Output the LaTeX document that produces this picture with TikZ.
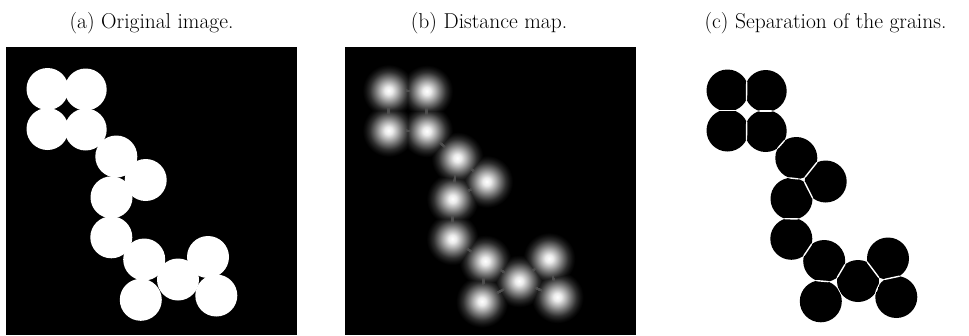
\documentclass[tikz,border=0pt]{standalone}
\usetikzlibrary{calc}

% radial profile of one grain in the distance map
\pgfdeclareradialshading{distglow}{\pgfpoint{0bp}{0bp}}{%
  color(0bp)=(white); color(3.7bp)=(white!92!black);
  color(8.3bp)=(white!68!black); color(13bp)=(white!42!black);
  color(17.6bp)=(white!18!black); color(21.3bp)=(white!6!black);
  color(24.1bp)=(black); color(50bp)=(black)}

% grain centres (panel a, in px) and touching pairs
\def\grains{1/47.5/89, 2/85.7/89.5, 3/47.5/129, 4/85.7/129.5,
  5/116.3/156.5, 6/145.7/180, 7/111.5/197.3, 8/111.3/237.3,
  9/144.2/259.5, 10/178/279.5, 11/208/257, 12/140.8/299.8,
  13/216.3/295.5}
\def\links{1/2, 1/3, 2/4, 3/4, 4/5, 5/6, 5/7, 6/7, 7/8, 8/9,
  9/10, 9/12, 10/12, 10/11, 10/13, 11/13}

\begin{document}
\begin{tikzpicture}[x=1pt, y=-1pt,
    caption/.style={font=\fontsize{21.5}{26}\selectfont, anchor=base,
                    inner sep=0pt},
    ridge/.style={line width=3pt, white!30!black, line cap=round},
    cut/.style={draw=white, line width=1.4pt}
  ]
    \useasboundingbox (0,0) rectangle (969,335);

    \foreach \n/\gx/\gy in \grains {
      \coordinate (a\n) at (\gx,\gy);
      \coordinate (b\n) at (\gx+341,\gy+1.5);
      \coordinate (c\n) at (\gx+680,\gy+1.5);
    }

    % === (a) Original image ===
    \node[caption] (capa) at (151.5,28.3) {(a) Original image.};
    \fill[black] (6,46.7) rectangle (297,335);
    \foreach \n in {1,...,13}
      \fill[white] (a\n) circle (21pt);

    % === (b) Distance map ===
    \node[caption] (capb) at (489,28.3) {(b) Distance map.};
    \fill[black] (345,46.7) rectangle (636,335);
    \begin{scope}[blend mode=lighten]
      \clip (345,46.7) rectangle (636,335);
      \foreach \p/\q in \links
        \draw[ridge] (b\p) -- (b\q);
      \foreach \n in {1,...,13}
        \shade[shading=distglow] (b\n) circle (27pt);
    \end{scope}

    % === (c) Separation of the grains ===
    \node[caption] (capc) at (825.5,28.3) {(c) Separation of the grains.};
    \foreach \n in {1,...,13}
      \fill[black] (c\n) circle (21pt);
    \foreach \p/\q in \links {
      \begin{scope}
        \clip (c\p) circle (21.6pt);
        \clip (c\q) circle (21.6pt);
        \draw[cut] ($($(c\p)!0.5!(c\q)$)!24pt!90:(c\q)$)
          -- ($($(c\p)!0.5!(c\q)$)!24pt!-90:(c\q)$);
      \end{scope}
    }
\end{tikzpicture}
\end{document}
